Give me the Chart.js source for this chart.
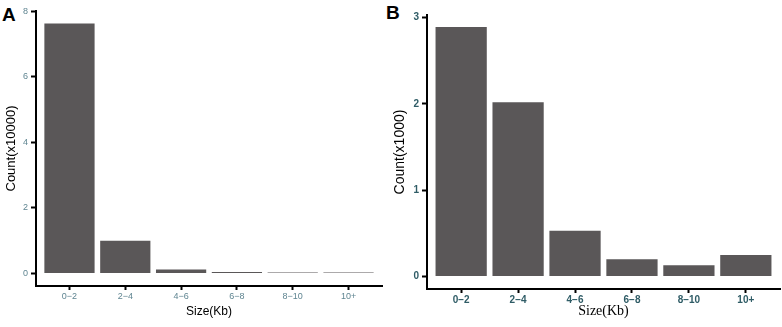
<!DOCTYPE html>
<html>
<head>
<meta charset="utf-8">
<script src="https://cdn.jsdelivr.net/npm/chart.js@4.4.0/dist/chart.umd.min.js"></script>
<style>
  body { margin: 0; background: #fff; width: 782px; height: 327px; position: relative; overflow: hidden; }
  canvas { position: absolute; top: 0; }
  .tag { position: absolute; font: bold 19px "Liberation Sans", Arial, sans-serif; line-height: 1; color: #000; }
</style>
</head>
<body>
<div class="tag" style="left:2px;top:5px">A</div>
<div class="tag" style="left:386px;top:3px">B</div>
<canvas id="chartA" width="390" height="327" style="left:0"></canvas>
<canvas id="chartB" width="392" height="327" style="left:390px"></canvas>
<script>
// size bins (Kb)
const sizeBins = ['0\u22122', '2\u22124', '4\u22126', '6\u22128', '8\u221210', '10+'];
// panel A: count x10000
const countsA = [7.63, 1.0, 0.12, 0.05, 0.03, 0.03];
const ticksA = [0, 2, 4, 6, 8];
// panel B: count x1000
const countsB = [2.89, 2.02, 0.53, 0.2, 0.13, 0.25];
const ticksB = [0, 1, 2, 3];

const barColor = '#5a5758';

function makeChart(id, values, yTicks, yMin, yMax, cfg) {
  const ctx = document.getElementById(id).getContext('2d');
  return new Chart(ctx, {
    type: 'bar',
    data: {
      datasets: [{
        data: values.map((v, i) => ({ x: i, y: v })),
        backgroundColor: barColor,
        borderWidth: 0,
        barPercentage: 0.9,
        categoryPercentage: 1
      }]
    },
    options: {
      responsive: false,
      animation: false,
      layout: { padding: { top: cfg.padTop, right: cfg.padRight, left: 0, bottom: 0 } },
      plugins: { legend: { display: false }, tooltip: { enabled: false } },
      scales: {
        x: {
          type: 'linear',
          offset: false,
          min: -0.6,
          max: 5.6,
          afterBuildTicks: s => { s.ticks = sizeBins.map((_, i) => ({ value: i })); },
          afterFit: s => { s.height = cfg.xHeight; },
          ticks: {
            autoSkip: false,
            maxRotation: 0,
            padding: 1,
            color: cfg.tickColor,
            font: cfg.tickFont,
            callback: v => sizeBins[v]
          },
          grid: { offset: false, drawOnChartArea: false, drawTicks: true, tickLength: 4, tickColor: '#000', tickWidth: 2 },
          border: { display: true, color: '#000', width: 2 },
          title: { display: true, text: 'Size(Kb)', color: '#000', font: cfg.xTitleFont, padding: { top: 0, bottom: cfg.xTitlePad } }
        },
        y: {
          min: yMin,
          max: yMax,
          afterBuildTicks: s => { s.ticks = yTicks.map(v => ({ value: v })); },
          afterFit: s => { s.width = cfg.yWidth; },
          ticks: { padding: 3, color: cfg.tickColor, font: cfg.tickFont },
          grid: { drawOnChartArea: false, drawTicks: true, tickLength: 5, tickColor: '#000', tickWidth: 2 },
          border: { display: true, color: '#000', width: 2 },
          title: { display: true, text: cfg.yTitle, color: '#000', font: cfg.yTitleFont, padding: { top: cfg.yTitlePad, bottom: 0 } }
        }
      }
    }
  });
}

makeChart('chartA', countsA, ticksA, -0.38, 8.01, {
  padTop: 11, padRight: 8, xHeight: 41, yWidth: 36,
  tickColor: '#5f8591',
  tickFont: { family: 'Liberation Sans', size: 9 },
  xTitleFont: { family: 'Liberation Sans', size: 12 },
  xTitlePad: 8,
  yTitle: 'Count(x10000)',
  yTitleFont: { family: 'Liberation Sans', size: 13 },
  yTitlePad: 4
});

makeChart('chartB', countsB, ticksB, -0.145, 3.03, {
  padTop: 15, padRight: 2, xHeight: 38, yWidth: 37,
  tickColor: '#2f5c66',
  tickFont: { family: 'Liberation Sans', size: 10, weight: 'bold' },
  xTitleFont: { family: 'Liberation Serif', size: 14 },
  xTitlePad: 7,
  yTitle: 'Count(x1000)',
  yTitleFont: { family: 'Liberation Sans', size: 14 },
  yTitlePad: 2
});
</script>
</body>
</html>
